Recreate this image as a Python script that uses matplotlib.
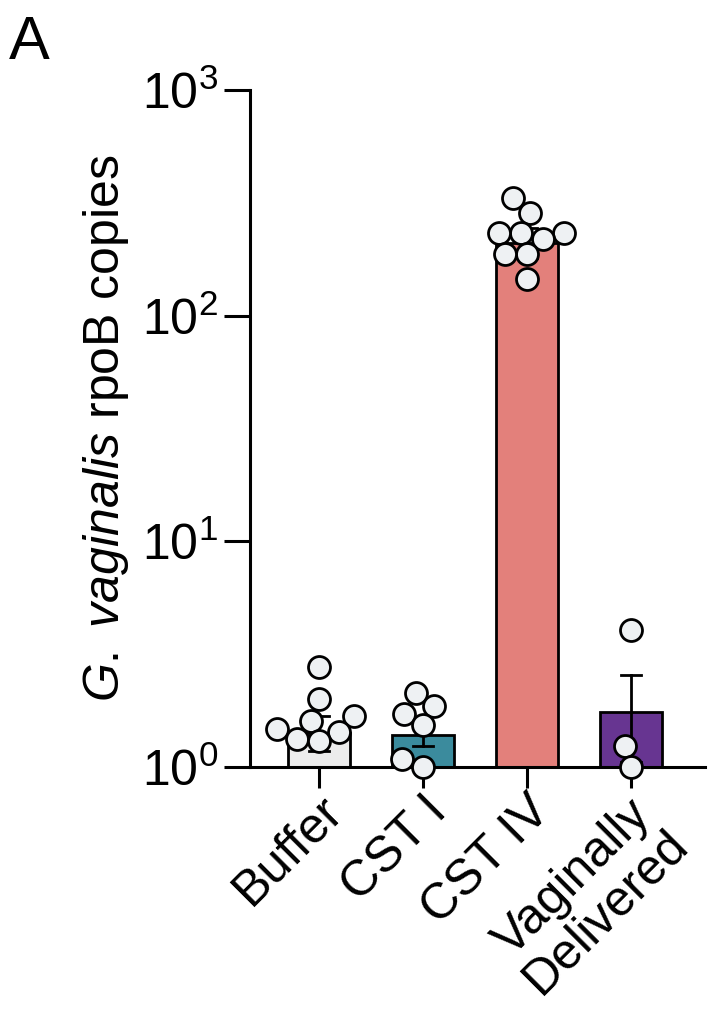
import numpy as np
import matplotlib
matplotlib.use('Agg')
import matplotlib.pyplot as plt
from matplotlib.ticker import LogLocator, NullLocator

plt.rcParams['font.family'] = ['Liberation Sans', 'DejaVu Sans']
plt.rcParams['mathtext.fontset'] = 'custom'
plt.rcParams['mathtext.rm'] = 'Liberation Sans'
plt.rcParams['mathtext.it'] = 'Liberation Sans:italic'

# datos
groups = ['Buffer', 'CST I', 'CST IV', 'Vaginally\nDelivered']
bar_vals = [1.41, 1.39, 210, 1.75]
err_low = [1.18, 1.24, 180, 1.05]
err_high = [1.68, 1.53, 245, 2.55]
pts_buffer = [2.77, 2.0, 1.68, 1.60, 1.47, 1.43, 1.33, 1.30]
pts_cst1 = [2.13, 1.86, 1.72, 1.53, 1.08, 1.0]
pts_cst4 = [333, 286, 233, 233, 233, 219, 188, 188, 146]
pts_vd = [4.04, 1.24, 1.0]
colors = ['#ececec', '#3b8b9d', '#e3807b', '#673591']

fig = plt.figure(figsize=(7.1, 10.18), dpi=100)
ax = fig.add_axes([0.352, 0.2466, 0.641, 0.665])

x = np.arange(len(groups))
ax.bar(x, bar_vals, width=0.6, color=colors, edgecolor='k', linewidth=2, zorder=2)
for i in range(len(groups)):
    ax.plot([x[i], x[i]], [err_low[i], err_high[i]], color='k', lw=2, zorder=3)
    ax.plot([x[i] - 0.095, x[i] + 0.095], [err_high[i]] * 2, color='k', lw=2, zorder=3)
    ax.plot([x[i] - 0.095, x[i] + 0.095], [err_low[i]] * 2, color='k', lw=2, zorder=3)

# puntos tipo swarm (en pixeles: 226 px por decada, 104 px entre barras)
def swarm(vals, r=11.0):
    ys = 226 * np.log10(vals)
    order = np.argsort(ys)
    placed = []
    xs = np.zeros(len(vals))
    for k in order:
        y = ys[k]
        bad = []
        for (px, py) in placed:
            dy = y - py
            if abs(dy) < 2 * r:
                w = np.sqrt(4 * r * r - dy * dy)
                bad.append((px - w, px + w))
        cands = [0.0] + [b[0] for b in bad] + [b[1] for b in bad]
        cands.sort(key=abs)
        for c in cands:
            if all(not (lo + 1e-6 < c < hi - 1e-6) for lo, hi in bad):
                xs[k] = c
                break
        placed.append((xs[k], y))
    return xs / 104.0

for i, pts in enumerate([pts_buffer, pts_cst1, pts_cst4, pts_vd]):
    off = swarm(pts)
    ax.scatter(x[i] + off, pts, s=250, facecolor='#eef1f3', edgecolor='k',
               linewidth=2, zorder=4, clip_on=False)

ax.set_yscale('log')
ax.set_ylim(1, 1000)
ax.set_xlim(-0.663, 3.71)
ax.yaxis.set_major_locator(LogLocator(base=10, numticks=10))
ax.yaxis.set_minor_locator(NullLocator())
ax.set_xticks(x)
ax.set_xticklabels(groups, rotation=45, ha='right', rotation_mode='anchor',
                   fontsize=36, ma='center', linespacing=1.05)

for s in ['top', 'right']:
    ax.spines[s].set_visible(False)
ax.spines['left'].set_linewidth(2.2)
ax.spines['bottom'].set_linewidth(2.2)
ax.tick_params(axis='y', length=19, width=2.2, labelsize=36, pad=4)
ax.tick_params(axis='x', length=15, width=2.2, pad=0)

ax.set_ylabel(r'$G.\ vaginalis$ rpoB copies', fontsize=36, labelpad=8)
fig.text(0.012, 0.985, 'A', fontsize=44, va='top', ha='left')

fig.savefig('out.png', dpi=100)
